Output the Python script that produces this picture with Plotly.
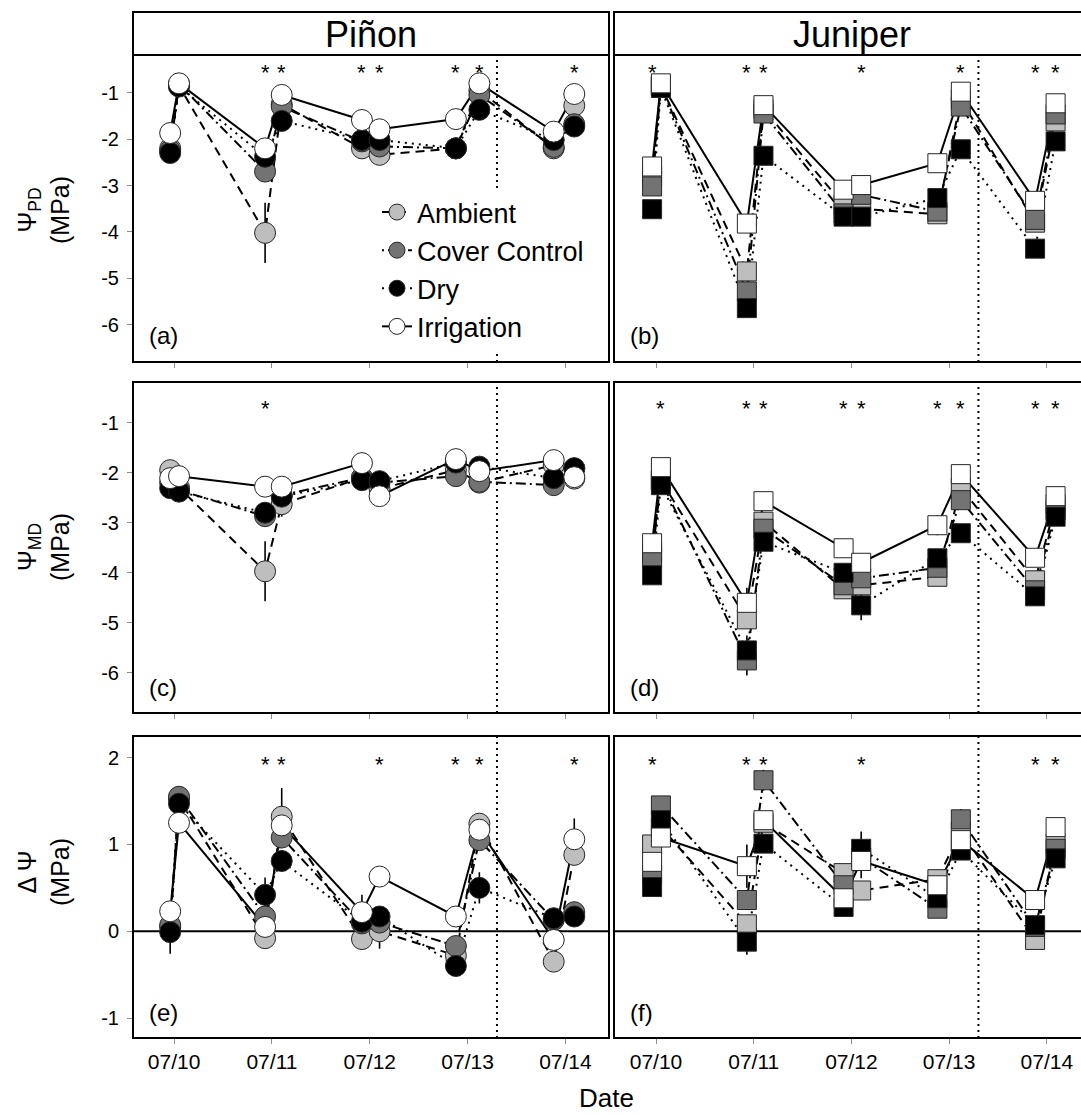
import plotly.graph_objects as go

W, H = 1081, 1115

# ---- sampling design -------------------------------------------------------
date_labels = ["07/10", "07/11", "07/12", "07/13", "07/14"]
date_ticks = [0, 1, 2, 3, 4]
# two sampling times per day (pre-dawn / midday pairs)
sample_x = [-0.04, 0.05, 0.93, 1.10, 1.92, 2.10, 2.88, 3.12, 3.88, 4.09]
treatment_switch_x = 3.3

treatments = ["Ambient", "Cover Control", "Dry", "Irrigation"]
fill_colors = ["#bebebe", "#737373", "#000000", "#ffffff"]
line_dashes = ["9px,6px", "2px,4px,10px,4px", "2px,5px", "solid"]

# ---- Piñon ------------------------------------------------------------------
pinon_pd = {
    "Ambient":       [-2.20, -0.85, -4.02, -1.25, -2.20, -2.34, -2.20, -0.95, -2.20, -1.28],
    "Cover Control": [-2.25, -0.82, -2.70, -1.30, -2.05, -2.16, -2.20, -1.05, -2.17, -1.68],
    "Dry":           [-2.30, -0.87, -2.38, -1.61, -2.02, -2.02, -2.20, -1.37, -2.02, -1.73],
    "Irrigation":    [-1.87, -0.80, -2.20, -1.05, -1.59, -1.79, -1.57, -0.80, -1.84, -1.03],
}
pinon_pd_se = {
    "Ambient":       [0.10, 0.05, 0.65, 0.20, 0.15, 0.15, 0.10, 0.10, 0.10, 0.15],
    "Cover Control": [0.10, 0.05, 0.20, 0.10, 0.10, 0.10, 0.10, 0.10, 0.10, 0.10],
    "Dry":           [0.10, 0.05, 0.25, 0.10, 0.10, 0.10, 0.10, 0.10, 0.10, 0.10],
    "Irrigation":    [0.10, 0.05, 0.10, 0.10, 0.10, 0.10, 0.10, 0.10, 0.10, 0.10],
}
pinon_md = {
    "Ambient":       [-1.95, -2.30, -3.97, -2.63, -2.10, -2.32, -1.95, -2.20, -1.85, -2.12],
    "Cover Control": [-2.20, -2.35, -2.87, -2.45, -2.10, -2.20, -2.07, -2.18, -2.25, -1.92],
    "Dry":           [-2.31, -2.38, -2.80, -2.48, -2.15, -2.17, -1.80, -1.88, -2.11, -1.91],
    "Irrigation":    [-2.11, -2.07, -2.28, -2.28, -1.81, -2.47, -1.73, -1.97, -1.75, -2.09],
}
pinon_md_se = {
    "Ambient":       [0.10, 0.10, 0.60, 0.25, 0.10, 0.10, 0.10, 0.10, 0.10, 0.10],
    "Cover Control": [0.10, 0.10, 0.15, 0.10, 0.10, 0.10, 0.10, 0.10, 0.10, 0.10],
    "Dry":           [0.10, 0.10, 0.15, 0.10, 0.10, 0.10, 0.10, 0.10, 0.10, 0.10],
    "Irrigation":    [0.10, 0.10, 0.10, 0.10, 0.10, 0.10, 0.10, 0.10, 0.10, 0.10],
}
pinon_dpsi = {
    "Ambient":       [0.05, 1.53, -0.08, 1.32, -0.09, 0.00, -0.28, 1.24, -0.35, 0.88],
    "Cover Control": [0.07, 1.55, 0.17, 1.08, 0.09, 0.10, -0.17, 1.05, 0.13, 0.22],
    "Dry":           [-0.01, 1.47, 0.42, 0.81, 0.11, 0.17, -0.40, 0.50, 0.15, 0.17],
    "Irrigation":    [0.23, 1.25, 0.05, 1.22, 0.22, 0.63, 0.17, 1.17, -0.10, 1.06],
}
pinon_dpsi_se = {
    "Ambient":       [0.10, 0.10, 0.12, 0.33, 0.10, 0.20, 0.10, 0.10, 0.10, 0.10],
    "Cover Control": [0.10, 0.10, 0.10, 0.10, 0.10, 0.10, 0.10, 0.10, 0.10, 0.10],
    "Dry":           [0.25, 0.10, 0.20, 0.12, 0.10, 0.10, 0.10, 0.18, 0.10, 0.10],
    "Irrigation":    [0.10, 0.10, 0.10, 0.10, 0.20, 0.10, 0.10, 0.10, 0.10, 0.24],
}

# ---- Juniper ----------------------------------------------------------------
juniper_pd = {
    "Ambient":       [-2.80, -0.85, -4.85, -1.35, -3.42, -3.50, -3.62, -1.15, -3.80, -1.62],
    "Cover Control": [-3.02, -0.85, -5.28, -1.45, -3.60, -3.20, -3.56, -1.30, -3.74, -1.47],
    "Dry":           [-3.51, -0.90, -5.64, -2.36, -3.67, -3.67, -3.27, -2.22, -4.36, -2.05],
    "Irrigation":    [-2.59, -0.80, -3.82, -1.27, -3.09, -2.99, -2.52, -0.98, -3.33, -1.23],
}
juniper_pd_se = {
    "Ambient":       [0.10, 0.05, 0.15, 0.10, 0.10, 0.10, 0.10, 0.10, 0.10, 0.10],
    "Cover Control": [0.10, 0.05, 0.15, 0.10, 0.10, 0.10, 0.10, 0.10, 0.10, 0.10],
    "Dry":           [0.10, 0.05, 0.15, 0.10, 0.10, 0.10, 0.10, 0.10, 0.10, 0.10],
    "Irrigation":    [0.10, 0.05, 0.15, 0.10, 0.15, 0.15, 0.20, 0.10, 0.10, 0.10],
}
juniper_md = {
    "Ambient":       [-3.60, -2.15, -4.93, -2.98, -4.33, -4.25, -4.08, -2.30, -4.15, -2.63],
    "Cover Control": [-3.71, -2.15, -5.75, -3.12, -4.25, -4.11, -3.90, -2.55, -4.35, -2.75],
    "Dry":           [-4.05, -2.25, -5.55, -3.38, -4.00, -4.65, -3.71, -3.21, -4.47, -2.88],
    "Irrigation":    [-3.41, -1.89, -4.60, -2.57, -3.51, -3.80, -3.05, -2.03, -3.70, -2.47],
}
juniper_md_se = {
    "Ambient":       [0.10, 0.10, 0.15, 0.10, 0.10, 0.10, 0.10, 0.10, 0.10, 0.10],
    "Cover Control": [0.10, 0.10, 0.30, 0.10, 0.10, 0.10, 0.10, 0.10, 0.10, 0.10],
    "Dry":           [0.10, 0.10, 0.30, 0.10, 0.10, 0.30, 0.10, 0.10, 0.15, 0.10],
    "Irrigation":    [0.10, 0.10, 0.30, 0.15, 0.10, 0.10, 0.20, 0.10, 0.10, 0.10],
}
juniper_dpsi = {
    "Ambient":       [1.00, 1.20, 0.08, 1.25, 0.67, 0.47, 0.60, 1.15, -0.10, 1.01],
    "Cover Control": [0.65, 1.45, 0.36, 1.74, 0.53, 0.85, 0.26, 1.29, 0.05, 0.95],
    "Dry":           [0.51, 1.28, -0.12, 1.01, 0.28, 0.95, 0.38, 0.93, 0.07, 0.84],
    "Irrigation":    [0.80, 1.08, 0.75, 1.28, 0.38, 0.81, 0.53, 1.05, 0.36, 1.20],
}
juniper_dpsi_se = {
    "Ambient":       [0.10, 0.10, 0.10, 0.10, 0.10, 0.10, 0.10, 0.10, 0.10, 0.10],
    "Cover Control": [0.10, 0.10, 0.10, 0.12, 0.10, 0.10, 0.10, 0.12, 0.10, 0.10],
    "Dry":           [0.10, 0.10, 0.15, 0.10, 0.10, 0.20, 0.10, 0.10, 0.10, 0.10],
    "Irrigation":    [0.10, 0.10, 0.25, 0.10, 0.10, 0.20, 0.10, 0.10, 0.10, 0.10],
}

# sample indices flagged as significant (asterisks)
sig_pinon_pd = [2, 3, 4, 5, 6, 7, 9]
sig_juniper_pd = [0, 2, 3, 5, 7, 8, 9]
sig_pinon_md = [2]
sig_juniper_md = [1, 2, 3, 4, 5, 6, 7, 8, 9]
sig_pinon_dpsi = [2, 3, 5, 6, 7, 9]
sig_juniper_dpsi = [0, 2, 3, 5, 8, 9]

panel_letters = ["(a)", "(b)", "(c)", "(d)", "(e)", "(f)"]
species_labels = ["Piñon", "Juniper"]
row_titles = ["Ψ<sub>PD</sub><br>(MPa)", "Ψ<sub>MD</sub><br>(MPa)", "Δ Ψ<br>(MPa)"]

# ---- layout geometry (pixels) -------------------------------------------------
col_px = [(133, 609), (614, 1090)]
row_px = [(55, 362), (382, 713), (736, 1038)]
strip_px = (12, 55)
x_ranges = [[-0.42, 4.445], [-0.43, 4.35]]
y_ranges = [[-6.8, -0.19], [-6.8, -0.19], [-1.23, 2.25]]
y_ticks = [[-6, -5, -4, -3, -2, -1], [-6, -5, -4, -3, -2, -1], [-1, 0, 1, 2]]
star_y = [-0.46, -0.61, 1.98]
label_y_px = [335, 687, 1012]
title_y_px = [210, 547, 872]

FONT = "Liberation Sans, Arial, Helvetica, sans-serif"

panels = [
    (pinon_pd, pinon_pd_se, "circle", sig_pinon_pd),
    (juniper_pd, juniper_pd_se, "square", sig_juniper_pd),
    (pinon_md, pinon_md_se, "circle", sig_pinon_md),
    (juniper_md, juniper_md_se, "square", sig_juniper_md),
    (pinon_dpsi, pinon_dpsi_se, "circle", sig_pinon_dpsi),
    (juniper_dpsi, juniper_dpsi_se, "square", sig_juniper_dpsi),
]


def px_x(v):
    return v / W


def px_y(v):
    return 1 - v / H


fig = go.Figure()
layout = {}
shapes = []
annotations = []

for p, (vals, ses, symbol, sig) in enumerate(panels):
    row, col = divmod(p, 2)
    n = p + 1
    xa = "x" if n == 1 else f"x{n}"
    ya = "y" if n == 1 else f"y{n}"
    xkey = "xaxis" if n == 1 else f"xaxis{n}"
    ykey = "yaxis" if n == 1 else f"yaxis{n}"

    x0, x1 = col_px[col]
    y0, y1 = row_px[row]

    layout[xkey] = dict(
        domain=[px_x(x0), min(px_x(x1), 1.0)],
        range=x_ranges[col], anchor=ya,
        tickvals=date_ticks, ticktext=date_labels,
        showticklabels=(row == 2),
        ticks="outside", ticklen=5, tickwidth=1, tickcolor="#8c8c8c",
        showgrid=False, zeroline=False, showline=False,
        tickfont=dict(size=21, color="black"),
    )
    layout[ykey] = dict(
        domain=[px_y(y1), px_y(y0)],
        range=y_ranges[row], anchor=xa,
        tickvals=y_ticks[row],
        ticktext=[f"{t:d}" for t in y_ticks[row]],  # plain hyphen minus
        showticklabels=(col == 0),
        ticks="outside" if col == 0 else "",
        ticklen=5, tickwidth=1, tickcolor="#8c8c8c",
        showgrid=False, zeroline=False, showline=False,
        tickfont=dict(size=20, color="black"),
        ticklabelstandoff=4,
    )

    # connecting lines with error bars underneath all symbols
    for t, dash in zip(treatments, line_dashes):
        fig.add_trace(go.Scatter(
            x=sample_x, y=vals[t], mode="lines",
            line=dict(color="black", width=2, dash=dash),
            error_y=dict(type="data", array=ses[t], color="black",
                         thickness=1.6, width=0),
            xaxis=xa, yaxis=ya, showlegend=False, hoverinfo="skip",
        ))
    for t, fc in zip(treatments, fill_colors):
        fig.add_trace(go.Scatter(
            x=sample_x, y=vals[t], mode="markers", name=t,
            marker=dict(symbol=symbol, size=21 if symbol == "circle" else 19,
                        color=fc, line=dict(color="#262626", width=1)),
            xaxis=xa, yaxis=ya, showlegend=False,
        ))

    # panel frame
    shapes.append(dict(type="rect", xref="paper", yref="paper",
                       x0=px_x(x0), x1=px_x(x1), y0=px_y(y1), y1=px_y(y0),
                       line=dict(color="black", width=2), layer="above"))
    # treatment change marker
    shapes.append(dict(type="line", xref=xa, yref=f"{ya} domain",
                       x0=treatment_switch_x, x1=treatment_switch_x, y0=0, y1=1,
                       line=dict(color="black", width=2, dash="2px,4px"),
                       layer="below"))
    if row == 2:
        shapes.append(dict(type="line", xref=f"{xa} domain", yref=ya,
                           x0=0, x1=1, y0=0, y1=0,
                           line=dict(color="black", width=2), layer="below"))

    for i in sig:
        annotations.append(dict(x=sample_x[i], y=star_y[row], xref=xa, yref=ya,
                                xanchor="center", yanchor="middle",
                                text="*", showarrow=False, yshift=-5,
                                font=dict(size=22, color="black")))

    annotations.append(dict(x=px_x(x0 + 14), y=px_y(label_y_px[row]),
                            xref="paper", yref="paper", xanchor="left",
                            yanchor="middle", text=panel_letters[p],
                            showarrow=False, font=dict(size=24, color="black")))

# species strips
for col, name in enumerate(species_labels):
    x0, x1 = col_px[col]
    shapes.append(dict(type="rect", xref="paper", yref="paper",
                       x0=px_x(x0), x1=px_x(x1),
                       y0=px_y(strip_px[1]), y1=px_y(strip_px[0]),
                       fillcolor="white", line=dict(color="black", width=2),
                       layer="above"))
    annotations.append(dict(x=px_x((x0 + x1) / 2), y=px_y(sum(strip_px) / 2 + 1),
                            xref="paper", yref="paper", text=name,
                            xanchor="center", yanchor="middle",
                            showarrow=False, font=dict(size=36, color="black")))

# row titles
for row, txt in enumerate(row_titles):
    annotations.append(dict(x=px_x(43), y=px_y(title_y_px[row]),
                            xref="paper", yref="paper", text=txt, textangle=-90,
                            xanchor="center", yanchor="middle",
                            showarrow=False, font=dict(size=25, color="black")))

annotations.append(dict(x=px_x(606), y=px_y(1098), xref="paper", yref="paper",
                        text="Date", showarrow=False,
                        xanchor="center", yanchor="middle",
                        font=dict(size=26, color="black")))

# legend entries
for t, fc, dash in zip(treatments, fill_colors, line_dashes):
    fig.add_trace(go.Scatter(
        x=[None], y=[None], mode="lines+markers", name=t,
        line=dict(color="black", width=2, dash=dash),
        marker=dict(symbol="circle", size=21, color=fc,
                    line=dict(color="#262626", width=1)),
        xaxis="x", yaxis="y", showlegend=True,
    ))

fig.update_layout(
    **layout,
    width=W, height=H, autosize=False,
    margin=dict(l=0, r=0, t=0, b=0),
    paper_bgcolor="white", plot_bgcolor="white",
    font=dict(family=FONT, color="black"),
    shapes=shapes, annotations=annotations,
    legend=dict(x=px_x(377), y=px_y(188), xanchor="left", yanchor="top",
                bgcolor="white", borderwidth=0,
                font=dict(size=27, color="black")),
)

fig.write_html("out.html")
